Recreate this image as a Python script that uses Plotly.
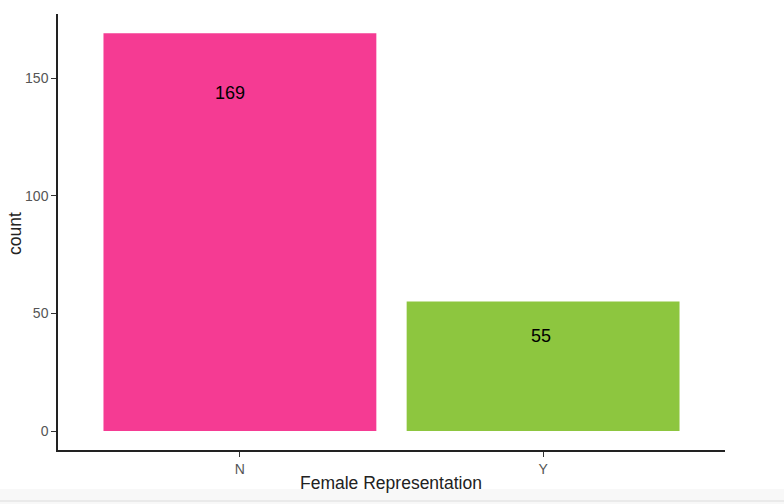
import plotly.graph_objects as go

categories = ["N", "Y"]
counts = [169, 55]
label_y = [143.6, 40.4]
label_xshift = [-10, -2]
colors = ["#F53B93", "#8DC63F"]
x_title = "Female Representation"
y_title = "count"

W, H = 784, 504
L, R, T, B = 58, 59, 14, 54
pw = W - L - R
ph = H - T - B

def px_x(px):
    return (px - L) / pw

def px_y(px):
    return (H - B - px) / ph

fig = go.Figure()
fig.add_trace(go.Bar(
    x=categories, y=counts, width=0.9,
    marker=dict(color=colors, line=dict(width=0)),
    hoverinfo="x+y", showlegend=False,
))

for cat, cnt, ly, xs in zip(categories, counts, label_y, label_xshift):
    fig.add_annotation(x=cat, y=ly, text=str(cnt), showarrow=False,
                       xanchor="center", yanchor="middle", xshift=xs,
                       font=dict(family="Liberation Sans, Arial", size=18, color="black"))

fig.add_shape(type="rect", xref="paper", yref="paper",
              x0=px_x(0), x1=px_x(W), y0=px_y(504), y1=px_y(489),
              fillcolor="#F8F8F8", line=dict(width=0), layer="below")
fig.add_shape(type="line", xref="paper", yref="paper",
              x0=px_x(0), x1=px_x(W), y0=px_y(501), y1=px_y(501),
              line=dict(color="#DCDCDC", width=1))

fig.add_annotation(text=x_title, xref="paper", yref="paper",
                   x=px_x(391), y=px_y(483), showarrow=False,
                   xanchor="center", yanchor="middle",
                   font=dict(family="Liberation Sans, Arial", size=17.5, color="#222222"))
fig.add_annotation(text=y_title, xref="paper", yref="paper",
                   x=px_x(15), y=px_y(233), showarrow=False, textangle=-90,
                   xanchor="center", yanchor="middle",
                   font=dict(family="Liberation Sans, Arial", size=17.5, color="#222222"))

fig.update_layout(
    width=W, height=H,
    margin=dict(l=L, r=R, t=T, b=B, pad=0, autoexpand=False),
    paper_bgcolor="white", plot_bgcolor="white",
    font=dict(family="Liberation Sans, Arial", color="#4D4D4D"),
    xaxis=dict(
        range=[-0.6, 1.6], showgrid=False, zeroline=False, automargin=False,
        showline=True, linecolor="#222222", linewidth=1.5,
        ticks="outside", ticklen=5, tickcolor="#333333", tickwidth=1,
        tickfont=dict(family="Liberation Sans, Arial", size=14, color="#555555"),
    ),
    yaxis=dict(
        range=[-8.07, 177.2], showgrid=False, zeroline=False, automargin=False,
        showline=True, linecolor="#222222", linewidth=1.5,
        tickvals=[0, 50, 100, 150],
        ticks="outside", ticklen=5, tickcolor="#333333", tickwidth=1,
        tickfont=dict(family="Liberation Sans, Arial", size=14, color="#555555"),
    ),
)

fig.write_html("out.html", config={"displayModeBar": False},
               post_script="document.body.style.margin='0';document.body.style.padding='0';")
